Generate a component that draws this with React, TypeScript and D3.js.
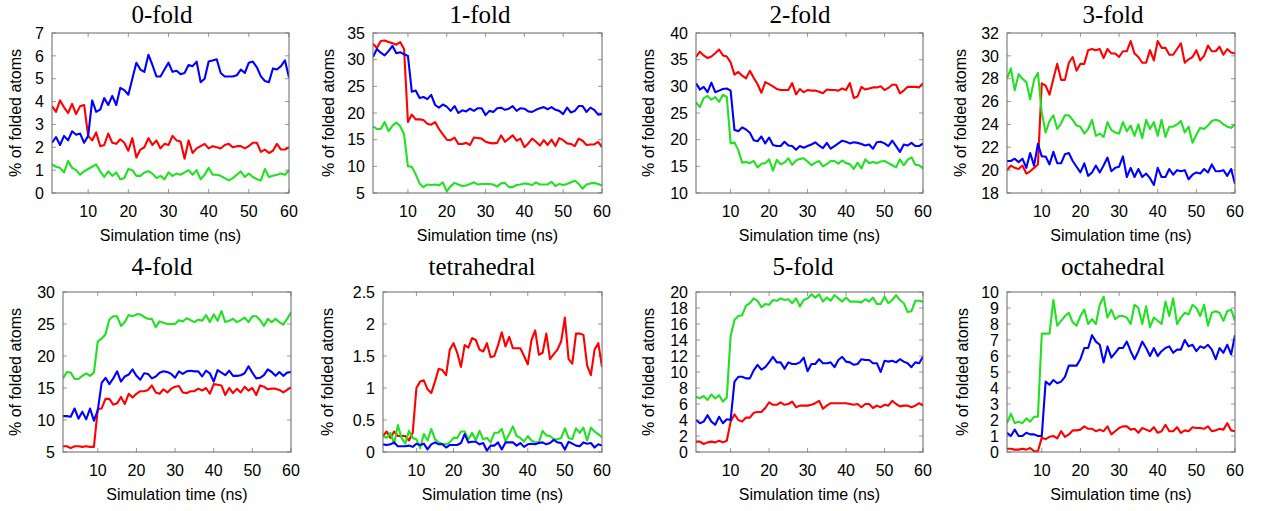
import React from "react";
import * as d3 from "d3";

// Simulation time in ns, one sample per ns
const times: number[] = Array.from({ length: 60 }, (_, i) => i + 1);
const xTicks = [10, 20, 30, 40, 50, 60];

// 0-fold
const zeroRed = [3.8, 3.55, 4.05, 3.75, 3.5, 3.9, 3.45, 3.8, 3.85, 2.5, 2.3, 2.65, 2.05, 2.1, 2.6, 2.2, 2.15, 2.35, 2.2, 1.85, 2.4, 1.55, 1.9, 2.0, 2.4, 2.1, 2.3, 1.95, 2.15, 2.1, 2.5, 2.3, 2.25, 1.5, 2.3, 1.75, 1.95, 2.05, 2.15, 1.95, 2.05, 2.0, 1.95, 2.1, 2.15, 2.0, 2.05, 2.05, 1.95, 2.05, 2.2, 2.2, 1.8, 1.9, 1.75, 1.85, 2.15, 1.9, 1.9, 2.0];
const zeroGreen = [1.25, 1.15, 1.1, 0.9, 1.4, 1.1, 1.0, 0.8, 0.95, 1.05, 1.15, 1.25, 0.95, 0.7, 0.95, 0.75, 0.9, 0.6, 0.65, 1.05, 1.0, 0.75, 0.75, 0.9, 0.95, 0.85, 0.65, 0.75, 0.6, 0.9, 0.75, 0.85, 0.8, 0.9, 1.0, 0.8, 1.0, 0.6, 0.8, 1.1, 0.8, 0.8, 0.75, 0.65, 0.55, 0.65, 0.8, 0.95, 0.7, 0.85, 0.7, 0.6, 0.55, 1.05, 0.7, 0.75, 0.8, 0.85, 0.8, 1.0];
const zeroBlue = [2.2, 2.45, 2.1, 2.5, 2.3, 2.7, 2.55, 2.6, 2.2, 2.5, 4.05, 3.55, 3.65, 4.15, 3.85, 4.25, 3.85, 4.6, 4.5, 4.3, 5.0, 5.7, 5.4, 5.3, 6.05, 5.6, 5.1, 5.1, 5.4, 5.7, 5.3, 5.35, 5.2, 5.25, 5.6, 5.55, 5.75, 4.85, 5.0, 5.75, 5.8, 5.85, 5.25, 5.1, 5.1, 5.1, 5.15, 5.4, 5.25, 5.7, 5.75, 5.5, 5.1, 4.9, 4.85, 5.45, 5.4, 5.55, 5.8, 5.05];

// 1-fold
const oneRed = [33, 32.2, 33.5, 33.6, 33.3, 33.1, 32.8, 33.3, 32, 18.3, 19.7, 18.8, 18.8, 18.7, 18.0, 17.8, 18.3, 17.0, 16, 15, 14.9, 15.4, 14.2, 14.2, 14.4, 14.0, 15.4, 15.3, 15.2, 14.6, 14.4, 14.3, 14.4, 15.8, 14.6, 15.2, 15.8, 14.8, 15.2, 13.6, 14.3, 15.2, 14.6, 13.9, 14.9, 14.0, 15.0, 13.8, 15.3, 14.9, 14.3, 14.2, 13.8, 15.2, 14.8, 14.0, 14.1, 14.1, 14.6, 13.6];
const oneGreen = [17.5, 17.0, 17.0, 18.3, 16.6, 17.6, 18.2, 17.5, 16, 10, 9.9, 8.5, 6.8, 6.1, 6.6, 6.5, 6.6, 6.4, 7.0, 5.3, 6.3, 6.9, 6.6, 6.3, 6.4, 6.7, 7.0, 6.6, 6.7, 6.7, 6.7, 6.6, 6.2, 6.8, 6.9, 6.1, 6.1, 6.5, 6.6, 6.8, 6.7, 6.5, 7.0, 6.6, 6.6, 6.6, 7.1, 6.3, 6.7, 6.5, 6.7, 7.0, 7.3, 6.7, 5.8, 6.6, 6.8, 6.9, 6.7, 6.4];
const oneBlue = [30.5, 32, 31.3, 30.8, 31.6, 32.6, 31.2, 31.4, 31, 30.7, 24, 24.2, 22.8, 23.0, 22.6, 23.4, 21.5, 21.0, 21.6, 21.2, 20.4, 21.3, 20.0, 20.5, 20.3, 20.8, 20.4, 20.9, 20.9, 19.6, 20.4, 20.2, 20.9, 21.0, 20.6, 20.8, 21.3, 20.4, 20.9, 20.8, 20.3, 20.2, 20.6, 20.9, 21.1, 20.7, 21.1, 20.6, 20.4, 19.8, 21.0, 20.1, 20.4, 21.3, 21.3, 20.2, 21.0, 20.6, 19.7, 19.8];

// 2-fold
const twoRed = [35.5, 36.5, 35.8, 35.3, 35.6, 36.2, 36.9, 35.8, 35.6, 34.5, 32.2, 32.7, 32.0, 31.5, 32.9, 31.6, 30.4, 28.8, 30.8, 30.4, 30.0, 29.5, 29.3, 29.3, 29.3, 30.6, 28.5, 29.5, 28.9, 29.3, 29.2, 29.2, 29.0, 28.7, 29.4, 29.3, 29.3, 29.2, 29.6, 29.3, 30.6, 27.8, 28.1, 29.9, 29.4, 29.6, 29.8, 29.8, 30.0, 29.3, 29.7, 30.3, 30.3, 28.7, 29.2, 29.9, 29.9, 29.9, 29.8, 30.6];
const twoGreen = [27.0, 26.1, 27.8, 28.2, 27.5, 28.0, 27.1, 28.4, 28.0, 19.3, 19.5, 18.0, 15.7, 15.8, 15.6, 16.0, 14.8, 15.5, 15.6, 16.3, 14.2, 16.2, 15.4, 15.7, 16.5, 15.3, 16.1, 16.4, 16.5, 15.9, 15.2, 15.7, 16.0, 15.0, 15.4, 16.0, 16.0, 15.5, 16.1, 15.6, 15.4, 14.5, 15.7, 14.6, 16.3, 15.6, 15.8, 15.6, 15.9, 16.0, 15.6, 15.2, 14.8, 16.3, 15.2, 16.2, 16.7, 15.3, 15.2, 14.6];
const twoBlue = [30.6, 29.4, 29.9, 28.9, 30.7, 28.9, 29.2, 29.5, 29.6, 29.2, 21.8, 21.6, 22.3, 21.9, 21.3, 19.9, 19.7, 20.6, 19.3, 20.4, 19.0, 18.8, 18.8, 19.6, 18.9, 18.8, 18.1, 18.8, 18.5, 18.8, 19.1, 19.5, 18.9, 18.4, 19.4, 18.3, 18.8, 19.3, 19.8, 19.6, 19.3, 19.5, 19.4, 19.2, 18.9, 19.1, 18.3, 19.5, 19.6, 19.3, 18.8, 19.8, 18.8, 17.7, 19.1, 18.9, 19.4, 18.8, 18.8, 19.3];

// 3-fold
const threeRed = [20.0, 20.4, 20.2, 20.1, 20.4, 19.7, 19.9, 20.2, 20.5, 27.6, 27.4, 26.6, 28.0, 29.3, 27.9, 27.9, 29.4, 29.9, 28.7, 29.3, 29.3, 30.5, 30.6, 30.5, 30.6, 29.8, 30.6, 30.2, 30.2, 29.9, 30.4, 30.4, 31.3, 30.2, 29.9, 29.4, 29.4, 30.5, 29.6, 31.3, 30.7, 30.7, 30.1, 30.1, 30.6, 31.1, 29.4, 29.7, 29.9, 30.5, 29.6, 30.0, 30.9, 30.4, 30.4, 30.8, 30.1, 30.6, 30.3, 30.2];
const threeGreen = [28.0, 28.9, 27.0, 28.4, 28.0, 27.7, 26.2, 27.9, 28.5, 25.0, 23.3, 24.3, 24.8, 23.6, 24.1, 24.8, 24.8, 24.4, 23.9, 23.8, 23.2, 23.6, 24.4, 23.0, 23.2, 22.9, 24.2, 23.5, 23.3, 23.2, 24.2, 23.4, 23.9, 23.0, 24.0, 22.8, 24.4, 23.6, 24.2, 23.0, 24.4, 22.9, 23.8, 23.8, 24.0, 24.3, 23.3, 23.8, 22.4, 23.1, 23.7, 23.6, 23.9, 24.3, 24.4, 24.3, 24.0, 23.8, 23.7, 24.0];
const threeBlue = [20.8, 20.8, 21.0, 20.7, 21.0, 20.2, 21.5, 20.4, 22.3, 21.2, 21.2, 20.5, 21.6, 20.6, 20.6, 21.4, 21.5, 20.8, 20.3, 19.8, 20.6, 19.5, 19.8, 20.4, 19.8, 20.4, 21.1, 19.9, 20.2, 20.3, 21.2, 19.4, 20.2, 19.4, 20.1, 19.4, 19.7, 19.3, 18.7, 20.2, 19.4, 19.4, 20.1, 19.6, 20.0, 19.9, 20.0, 19.2, 19.6, 19.8, 19.7, 20.1, 19.8, 20.5, 19.9, 19.9, 20.0, 19.5, 20.1, 18.8];

// 4-fold
const fourRed = [5.9, 5.9, 5.6, 5.9, 5.9, 5.8, 5.9, 5.8, 5.8, 11.7, 11.8, 13.3, 13.3, 12.4, 12.6, 13.6, 12.5, 14.1, 13.5, 14.1, 14.5, 14.5, 14.7, 15.4, 14.3, 14.1, 14.8, 14.3, 14.9, 15.2, 15.3, 14.3, 14.2, 14.5, 14.5, 14.9, 14.6, 15.0, 14.1, 15.6, 15.5, 15.4, 13.9, 15.0, 14.2, 14.9, 14.3, 15.2, 14.6, 15.0, 13.9, 15.4, 15.2, 14.8, 14.9, 14.9, 14.7, 14.3, 14.7, 15.1];
const fourGreen = [16.5, 17.5, 17.4, 16.4, 16.4, 16.9, 17.3, 16.9, 17.4, 22.3, 22.7, 23.4, 25.7, 26.2, 26.2, 24.7, 25.3, 26.4, 26.2, 26.5, 26.5, 26.1, 25.8, 25.8, 24.5, 25.4, 25.2, 25.0, 25.0, 25.0, 25.6, 25.4, 25.9, 25.6, 25.3, 25.7, 25.5, 26.4, 25.3, 26.5, 25.5, 27.0, 25.3, 25.5, 25.8, 25.3, 25.6, 26.0, 25.3, 26.2, 26.2, 25.6, 24.7, 25.8, 25.3, 25.8, 25.3, 24.9, 25.8, 26.8];
const fourBlue = [10.6, 10.6, 10.5, 11.8, 10.2, 11.3, 10.1, 11.8, 9.9, 11.5, 15.8, 16.6, 15.6, 16.5, 17.6, 16.0, 16.8, 17.1, 17.9, 16.9, 16.3, 17.3, 17.2, 16.5, 16.8, 17.4, 17.6, 17.5, 17.2, 16.6, 17.6, 17.2, 17.6, 17.7, 17.6, 17.6, 16.8, 17.7, 17.3, 16.0, 17.8, 17.4, 17.0, 17.7, 16.9, 16.9, 17.0, 17.3, 18.4, 17.4, 16.5, 16.6, 17.0, 17.9, 17.5, 16.9, 17.5, 16.9, 17.4, 17.5];

// tetrahedral
const tetraRed = [0.25, 0.32, 0.22, 0.32, 0.25, 0.25, 0.25, 0.18, 0.3, 1.0, 1.1, 1.12, 0.98, 0.92, 1.1, 1.3, 1.28, 1.2, 1.6, 1.7, 1.55, 1.33, 1.67, 1.63, 1.78, 1.75, 1.6, 1.57, 1.7, 1.48, 1.5, 1.67, 1.87, 1.65, 1.8, 1.62, 1.62, 1.62, 1.5, 1.37, 1.75, 1.9, 1.52, 1.55, 1.85, 1.45, 1.53, 1.6, 1.73, 2.1, 1.45, 1.38, 1.85, 1.85, 1.83, 1.35, 1.2, 1.6, 1.7, 1.33];
const tetraGreen = [0.25, 0.22, 0.3, 0.13, 0.42, 0.22, 0.13, 0.33, 0.22, 0.2, 0.06, 0.28, 0.18, 0.36, 0.2, 0.15, 0.13, 0.12, 0.15, 0.22, 0.22, 0.32, 0.32, 0.2, 0.3, 0.18, 0.33, 0.2, 0.22, 0.15, 0.3, 0.3, 0.36, 0.17, 0.28, 0.4, 0.25, 0.22, 0.16, 0.25, 0.18, 0.15, 0.15, 0.33, 0.26, 0.25, 0.2, 0.2, 0.22, 0.37, 0.22, 0.2, 0.37, 0.3, 0.38, 0.18, 0.38, 0.32, 0.28, 0.23];
const tetraBlue = [0.12, 0.11, 0.12, 0.15, 0.09, 0.09, 0.09, 0.1, 0.08, 0.13, 0.11, 0.13, 0.04, 0.12, 0.15, 0.12, 0.12, 0.07, 0.11, 0.11, 0.11, 0.14, 0.28, 0.15, 0.16, 0.16, 0.12, 0.14, 0.02, 0.1, 0.1, 0.15, 0.04, 0.15, 0.15, 0.15, 0.1, 0.14, 0.08, 0.12, 0.13, 0.12, 0.14, 0.15, 0.12, 0.14, 0.19, 0.15, 0.14, 0.04, 0.16, 0.13, 0.1, 0.09, 0.15, 0.13, 0.14, 0.07, 0.12, 0.1];

// 5-fold
const fiveRed = [1.3, 1.3, 1.0, 1.2, 1.3, 1.2, 1.4, 1.2, 1.4, 3.8, 4.7, 4.0, 3.8, 4.3, 4.3, 4.9, 5.0, 5.0, 5.5, 6.2, 5.9, 5.9, 6.2, 5.9, 6.0, 6.3, 5.6, 5.8, 5.8, 5.8, 5.9, 6.1, 6.4, 5.4, 5.8, 6.1, 6.1, 6.1, 6.1, 6.1, 6.0, 5.9, 6.0, 5.6, 6.0, 6.0, 5.5, 5.8, 5.6, 5.9, 5.8, 6.4, 6.0, 5.7, 5.8, 5.8, 5.6, 5.8, 6.1, 5.8];
const fiveGreen = [6.9, 6.7, 7.0, 6.5, 7.2, 6.7, 7.1, 6.3, 6.8, 14.5, 16.5, 17.0, 17.1, 18.3, 18.6, 19.2, 18.9, 18.1, 18.5, 18.4, 19.0, 18.9, 19.2, 19.0, 19.1, 18.6, 19.2, 18.2, 19.0, 19.2, 19.7, 19.3, 19.7, 18.8, 19.3, 18.9, 19.6, 19.2, 18.8, 19.3, 18.8, 18.8, 18.8, 18.7, 19.1, 18.8, 19.3, 18.5, 18.5, 19.4, 18.6, 19.0, 19.6, 19.0, 18.6, 17.5, 17.6, 18.9, 18.9, 18.8];
const fiveBlue = [4.0, 3.6, 3.8, 4.6, 3.8, 3.4, 4.4, 3.6, 4.1, 4.0, 8.8, 9.4, 9.4, 9.2, 9.2, 10.2, 10.9, 10.3, 10.6, 11.2, 11.9, 11.2, 11.2, 10.4, 11.2, 11.0, 11.0, 11.2, 11.8, 10.1, 11.0, 11.0, 11.6, 11.1, 11.1, 11.2, 10.6, 11.5, 11.9, 11.3, 11.2, 10.9, 11.0, 11.6, 11.5, 11.5, 11.1, 11.1, 10.0, 11.4, 11.3, 11.4, 11.2, 11.6, 11.3, 11.1, 10.6, 11.2, 11.1, 11.9];

// octahedral
const octaRed = [0.2, 0.2, 0.15, 0.15, 0.2, 0.15, 0.25, 0.05, 0.05, 0.9, 0.8, 0.95, 1.0, 0.85, 1.3, 0.95, 1.1, 1.35, 1.35, 1.4, 1.6, 1.45, 1.45, 1.3, 1.4, 1.3, 1.6, 1.1, 1.3, 1.5, 1.6, 1.6, 1.4, 1.45, 1.2, 1.5, 1.4, 1.3, 1.55, 1.2, 1.3, 1.7, 1.3, 1.3, 1.55, 1.2, 1.35, 1.3, 1.55, 1.5, 1.5, 1.45, 1.6, 1.3, 1.35, 1.45, 1.4, 1.8, 1.35, 1.3];
const octaGreen = [1.8, 2.4, 1.8, 1.9, 1.8, 2.1, 1.9, 2.2, 2.2, 7.4, 7.4, 7.4, 9.5, 7.9, 8.2, 8.5, 8.7, 8.1, 7.9, 8.5, 8.9, 8.0, 8.3, 8.0, 9.2, 9.7, 8.4, 8.9, 8.3, 8.5, 8.5, 8.4, 8.0, 9.2, 9.0, 8.0, 9.1, 7.8, 8.4, 8.2, 8.0, 9.4, 8.5, 9.6, 8.0, 8.4, 8.7, 8.6, 9.2, 9.0, 8.5, 9.2, 7.9, 8.7, 8.8, 8.7, 8.2, 8.8, 8.9, 8.2];
const octaBlue = [1.2, 1.0, 1.4, 1.0, 1.0, 1.2, 1.1, 1.1, 1.0, 1.0, 4.4, 4.2, 4.5, 4.3, 4.4, 4.7, 5.4, 5.4, 5.4, 5.8, 6.5, 6.5, 7.3, 6.9, 6.7, 5.6, 6.6, 5.9, 6.2, 6.5, 6.5, 6.9, 6.3, 5.8, 6.3, 6.9, 6.5, 6.0, 6.5, 6.0, 6.3, 6.5, 6.6, 6.2, 6.4, 6.4, 7.0, 6.6, 6.7, 6.3, 6.6, 6.5, 6.7, 6.4, 5.8, 6.5, 6.2, 6.7, 6.1, 7.3];

// Panel titles and y-axis tick values
const titles = ["0-fold", "1-fold", "2-fold", "3-fold", "4-fold", "tetrahedral", "5-fold", "octahedral"];
const yTicks: number[][] = [
  [0, 1, 2, 3, 4, 5, 6, 7],
  [5, 10, 15, 20, 25, 30, 35],
  [10, 15, 20, 25, 30, 35, 40],
  [18, 20, 22, 24, 26, 28, 30, 32],
  [5, 10, 15, 20, 25, 30],
  [0, 0.5, 1, 1.5, 2, 2.5],
  [0, 2, 4, 6, 8, 10, 12, 14, 16, 18, 20],
  [0, 1, 2, 3, 4, 5, 6, 7, 8, 9, 10],
];
const seriesByPanel: number[][][] = [
  [zeroRed, zeroGreen, zeroBlue],
  [oneRed, oneGreen, oneBlue],
  [twoRed, twoGreen, twoBlue],
  [threeRed, threeGreen, threeBlue],
  [fourRed, fourGreen, fourBlue],
  [tetraRed, tetraGreen, tetraBlue],
  [fiveRed, fiveGreen, fiveBlue],
  [octaRed, octaGreen, octaBlue],
];

// Layout of each panel: plot box edges, title centre/baseline, y-label x
const layout = [
  { l: 52, r: 289, t: 33, b: 193, tx: 162, ty: 23, lx: 15 },
  { l: 373, r: 602, t: 33, b: 193, tx: 480, ty: 23, lx: 328 },
  { l: 696, r: 923, t: 33, b: 193, tx: 800, ty: 23, lx: 648 },
  { l: 1007, r: 1235, t: 33, b: 193, tx: 1113, ty: 23, lx: 960 },
  { l: 63, r: 291, t: 292, b: 452, tx: 162, ty: 275, lx: 15 },
  { l: 383, r: 602, t: 292, b: 452, tx: 482, ty: 275, lx: 327 },
  { l: 696, r: 923, t: 292, b: 452, tx: 803, ty: 275, lx: 648 },
  { l: 1007, r: 1235, t: 292, b: 452, tx: 1113, ty: 275, lx: 962 },
];

const lineColors = ["#ff0000", "#22e022", "#0000ff"];
const sans = "'Liberation Sans', Arial, Helvetica, sans-serif";
const serif = "'Liberation Serif', 'Times New Roman', serif";
const labelSize = 16;

function Panel({ idx }: { idx: number }) {
  const L = layout[idx];
  const ticks = yTicks[idx];
  const x = d3.scaleLinear().domain([1, 60]).range([L.l, L.r]);
  const y = d3
    .scaleLinear()
    .domain([ticks[0], ticks[ticks.length - 1]])
    .range([L.b, L.t]);
  const line = d3
    .line<number>()
    .x((_, i) => x(times[i]))
    .y((v) => y(v));
  const tickLen = 4;
  return (
    <g>
      <text x={L.tx} y={L.ty} textAnchor="middle" fontFamily={serif} fontSize={25} fill="#000">
        {titles[idx]}
      </text>
      {/* inner tick marks on all four sides */}
      {xTicks.map((t) => (
        <g key={"xt" + t} stroke="#999" strokeWidth={1}>
          <line x1={x(t)} x2={x(t)} y1={L.b} y2={L.b - tickLen} />
          <line x1={x(t)} x2={x(t)} y1={L.t} y2={L.t + tickLen} />
        </g>
      ))}
      {ticks.map((t) => (
        <g key={"yt" + t} stroke="#999" strokeWidth={1}>
          <line x1={L.l} x2={L.l + tickLen} y1={y(t)} y2={y(t)} />
          <line x1={L.r} x2={L.r - tickLen} y1={y(t)} y2={y(t)} />
        </g>
      ))}
      <g clipPath={`url(#clip${idx})`}>
        {seriesByPanel[idx].map((s, k) => (
          <path
            key={k}
            d={line(s) || ""}
            fill="none"
            stroke={lineColors[k]}
            strokeWidth={2.1}
            strokeLinejoin="round"
          />
        ))}
      </g>
      <rect x={L.l} y={L.t} width={L.r - L.l} height={L.b - L.t} fill="none" stroke="#666" strokeWidth={1} />
      {xTicks.map((t) => (
        <text key={"xl" + t} x={x(t)} y={L.b + 24} textAnchor="middle" fontFamily={sans} fontSize={labelSize} fill="#000">
          {t}
        </text>
      ))}
      {ticks.map((t) => (
        <text key={"yl" + t} x={L.l - 8} y={y(t) + 5.7} textAnchor="end" fontFamily={sans} fontSize={labelSize} fill="#000">
          {String(t)}
        </text>
      ))}
      <text x={(L.l + L.r) / 2} y={L.b + 48} textAnchor="middle" fontFamily={sans} fontSize={labelSize} fill="#000">
        Simulation time (ns)
      </text>
      <text
        transform={`translate(${L.lx + 5.7},${(L.t + L.b) / 2}) rotate(-90)`}
        textAnchor="middle"
        fontFamily={sans}
        fontSize={labelSize}
        fill="#000"
      >
        % of folded atoms
      </text>
    </g>
  );
}

export default function App() {
  return (
    <svg
      width={1261}
      height={511}
      style={{ position: "absolute", left: 0, top: 0, background: "#fff" }}
    >
      <defs>
        {layout.map((L, i) => (
          <clipPath id={`clip${i}`} key={i}>
            <rect x={L.l} y={L.t - 1} width={L.r - L.l} height={L.b - L.t + 2} />
          </clipPath>
        ))}
      </defs>
      <rect width={1261} height={511} fill="#fff" />
      {layout.map((_, i) => (
        <Panel key={i} idx={i} />
      ))}
    </svg>
  );
}
